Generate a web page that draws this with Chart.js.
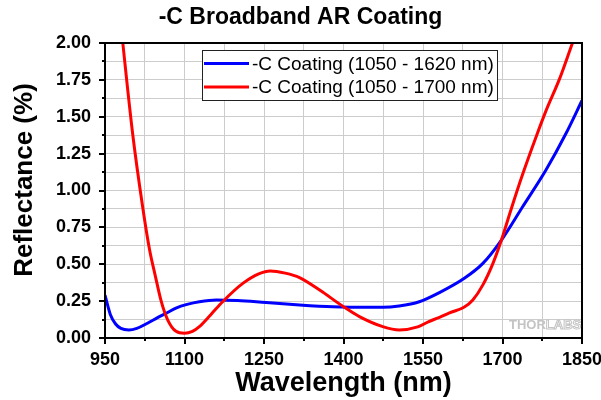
<!DOCTYPE html>
<html><head><meta charset="utf-8">
<script src="https://cdn.jsdelivr.net/npm/chart.js@4.4.0/dist/chart.umd.min.js"></script>
<style>html,body{margin:0;padding:0;background:#fff;}canvas{display:block;}</style>
</head><body>
<canvas id="c" width="601" height="400"></canvas>
<script>
const chartTitle = '-C Broadband AR Coating';
const xAxisTitle = 'Wavelength (nm)';
const yAxisTitle = 'Reflectance (%)';
const seriesNames = ['-C Coating (1050 - 1620 nm)', '-C Coating (1050 - 1700 nm)'];
const watermark = ['THOR', 'LABS'];

const blueWavelengths = [950, 960, 970, 980, 995, 1010, 1030, 1050, 1065, 1085, 1105, 1128, 1160, 1200, 1254, 1317, 1380, 1443, 1474, 1505, 1543, 1581, 1628, 1663, 1698, 1738, 1782, 1820, 1850];
const blueValues = [0.29, 0.16, 0.095, 0.065, 0.054, 0.065, 0.1, 0.14, 0.167, 0.205, 0.228, 0.246, 0.258, 0.254, 0.24, 0.224, 0.212, 0.208, 0.208, 0.217, 0.246, 0.308, 0.405, 0.506, 0.664, 0.89, 1.139, 1.388, 1.61];

const redWavelengths = [972, 983, 1002, 1021, 1034, 1045, 1056, 1068, 1084, 1100, 1115, 1128, 1150, 1172, 1210, 1240, 1262, 1290, 1317, 1355, 1400, 1430, 1474, 1505, 1540, 1560, 1581, 1600, 1628, 1644, 1663, 1682, 1698, 1716, 1738, 1764, 1782, 1808, 1830, 1850];
const redValues = [2.4, 2.02, 1.39, 0.89, 0.6, 0.42, 0.25, 0.125, 0.045, 0.032, 0.045, 0.077, 0.16, 0.246, 0.37, 0.435, 0.455, 0.44, 0.41, 0.325, 0.212, 0.145, 0.077, 0.054, 0.075, 0.11, 0.14, 0.17, 0.21, 0.258, 0.36, 0.506, 0.664, 0.87, 1.11, 1.37, 1.54, 1.76, 1.98, 2.18];

const xTickLabels = [950, 1100, 1250, 1400, 1550, 1700, 1850];
const yTickLabels = [0, 0.25, 0.5, 0.75, 1.0, 1.25, 1.5, 1.75, 2.0];

const F = 'Arial, "Liberation Sans", Helvetica, sans-serif';
const near = (arr, v) => arr.some(a => Math.abs(a - v) < 1e-6);

const decor = {
  id: 'decor',
  afterDraw(chart) {
    const {ctx, chartArea: a, scales: {x, y}} = chart;
    ctx.save();
    ctx.strokeStyle = '#000';
    ctx.lineWidth = 2;
    x.ticks.forEach(t => {
      const px = Math.round(x.getPixelForValue(t.value));
      const L = near(xTickLabels, t.value) ? 6 : 3;
      ctx.beginPath(); ctx.moveTo(px, a.bottom); ctx.lineTo(px, a.bottom + L); ctx.stroke();
    });
    y.ticks.forEach(t => {
      const py = Math.round(y.getPixelForValue(t.value));
      const L = near(yTickLabels, t.value) ? 6 : 3;
      ctx.beginPath(); ctx.moveTo(a.left, py); ctx.lineTo(a.left - L, py); ctx.stroke();
    });
    ctx.strokeRect(a.left, a.top, a.right - a.left, a.bottom - a.top);

    // y axis title
    ctx.save();
    ctx.translate(25, 180);
    ctx.rotate(-Math.PI / 2);
    ctx.font = 'bold 26px ' + F;
    ctx.fillStyle = '#000';
    ctx.textAlign = 'center';
    ctx.textBaseline = 'middle';
    ctx.fillText(yAxisTitle, 0, 0);
    ctx.restore();

    // legend
    const lx = a.left + 97, ly = a.top + 7, lw = 295, lh = 50;
    ctx.fillStyle = '#fff';
    ctx.fillRect(lx, ly, lw, lh);
    ctx.lineWidth = 1;
    ctx.strokeStyle = '#222';
    ctx.strokeRect(lx + 0.5, ly + 0.5, lw, lh);
    chart.data.datasets.forEach((ds, i) => {
      const ry = ly + 13.5 + i * 23.5;
      ctx.strokeStyle = ds.borderColor;
      ctx.lineWidth = 3;
      ctx.beginPath(); ctx.moveTo(lx + 2, ry); ctx.lineTo(lx + 47, ry); ctx.stroke();
      ctx.fillStyle = '#000';
      ctx.font = '19px ' + F;
      ctx.textAlign = 'left';
      ctx.textBaseline = 'middle';
      ctx.fillText(ds.label, lx + 50, ry + 1);
    });

    // watermark
    ctx.font = 'bold 13px ' + F;
    ctx.textBaseline = 'alphabetic';
    ctx.textAlign = 'left';
    ctx.fillStyle = '#c4c4c4';
    const wx = a.right - 73, wy = a.bottom - 9;
    ctx.fillText(watermark[0], wx, wy);
    const w0 = ctx.measureText(watermark[0]).width;
    ctx.strokeStyle = '#c4c4c4';
    ctx.lineWidth = 1;
    ctx.strokeText(watermark[1], wx + w0, wy);
    ctx.restore();
  }
};

new Chart(document.getElementById('c'), {
  type: 'line',
  data: {
    datasets: [
      { label: seriesNames[0], data: blueWavelengths.map((w, i) => ({x: w, y: blueValues[i]})), borderColor: '#0000ff', borderWidth: 3, pointRadius: 0, cubicInterpolationMode: 'monotone', fill: false, order: 1 },
      { label: seriesNames[1], data: redWavelengths.map((w, i) => ({x: w, y: redValues[i]})), borderColor: '#ff0000', borderWidth: 3, pointRadius: 0, cubicInterpolationMode: 'monotone', fill: false, order: 0 }
    ]
  },
  options: {
    responsive: false,
    animation: false,
    layout: { padding: 0 },
    plugins: {
      legend: { display: false },
      tooltip: { enabled: false },
      title: { display: true, text: chartTitle, color: '#000', font: { family: F, size: 23, weight: 'bold' }, padding: { top: 4, bottom: 11.4 } }
    },
    scales: {
      x: {
        type: 'linear', min: 950, max: 1850,
        afterFit: s => { s.height = 62; s.paddingLeft = 0; s.paddingRight = 19; },
        border: { display: false },
        grid: { color: '#cccccc', lineWidth: 1, drawTicks: false },
        ticks: { stepSize: 75, autoSkip: false, maxRotation: 0, padding: 11, color: '#000', font: { family: F, size: 18, weight: 'bold' },
          callback: v => near(xTickLabels, v) ? String(v) : '' },
        title: { display: true, text: xAxisTitle, color: '#000', font: { family: F, size: 27, weight: 'bold' }, padding: { top: 0, bottom: 0 } }
      },
      y: {
        type: 'linear', min: 0, max: 2,
        afterFit: s => { s.width = 105; },
        border: { display: false },
        grid: { color: '#cccccc', lineWidth: 1, drawTicks: false },
        ticks: { stepSize: 0.125, autoSkip: false, padding: 14, color: '#000', font: { family: F, size: 18, weight: 'bold' },
          callback: v => near(yTickLabels, v) ? v.toFixed(2) : '' }
      }
    }
  },
  plugins: [decor]
});
</script>
</body></html>
